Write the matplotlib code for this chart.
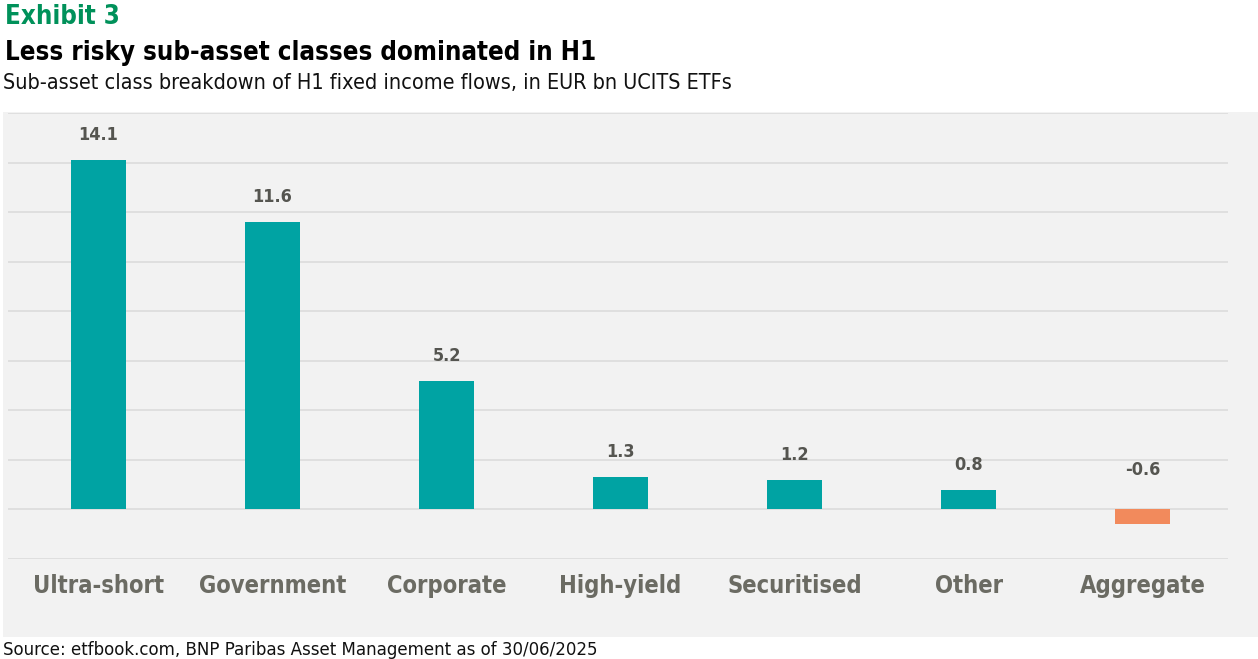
import matplotlib.pyplot as plt
from matplotlib.patches import Rectangle
import numpy as np

# Données
categories = ['Ultra-short', 'Government', 'Corporate', 'High-yield', 'Securitised', 'Other', 'Aggregate']
flows = [14.1, 11.6, 5.2, 1.3, 1.2, 0.8, -0.6]
yticks = [-2, 0, 2, 4, 6, 8, 10, 12, 14, 16]

TEAL = '#00a3a3'
ORANGE = '#f28a5c'
GREEN = '#00915a'
LABEL_GREY = '#555550'
CAT_GREY = '#6b6b63'

W, H = 1258, 659
fig = plt.figure(figsize=(W / 100, H / 100), dpi=100)
fig.patch.set_facecolor('white')

# Fond gris du panneau
fig.patches.append(Rectangle((3 / W, 1 - 637 / H), (W - 3) / W, (637 - 112) / H,
                             transform=fig.transFigure, facecolor='#f2f2f2',
                             edgecolor='none', zorder=0))

ax = fig.add_axes([8 / W, 1 - 559 / H, 1220 / W, (559 - 113) / H])
ax.set_zorder(2)
ax.patch.set_alpha(0)

x = np.arange(len(categories))
colors = [TEAL if v >= 0 else ORANGE for v in flows]
ax.bar(x, flows, width=0.316, color=colors, zorder=3)

for i, v in enumerate(flows):
    off = 11.5 if v >= 0 else 22
    ax.annotate(f'{v:.1f}', xy=(i, max(v, 0)), xytext=(0, off), textcoords='offset points',
                ha='center', va='bottom', fontsize=13, color=LABEL_GREY,
                fontweight='semibold', fontstretch='condensed')

ax.set_xlim(-0.52, 6.49)
ax.set_ylim(-2, 16)
ax.set_yticks(yticks)
ax.set_yticklabels([])
ax.yaxis.grid(True, color='#dcdcdc', linewidth=1.2, zorder=0)
ax.set_axisbelow(True)
ax.tick_params(axis='y', length=0)
ax.tick_params(axis='x', length=0, pad=11)
ax.set_xticks(x)
ax.set_xticklabels(categories, fontsize=17, color=CAT_GREY, fontweight='semibold',
                   fontstretch='condensed')
for s in ax.spines.values():
    s.set_visible(False)

# Titres
fig.text(5 / W, 1 - 24 / H, 'Exhibit 3', fontsize=18.5, fontweight='bold', color=GREEN,
         fontstretch='condensed', va='baseline')
fig.text(5 / W, 1 - 60 / H, 'Less risky sub-asset classes dominated in H1', fontsize=18.5,
         fontweight='bold', color='black', fontstretch='condensed', va='baseline')
fig.text(3 / W, 1 - 89 / H, 'Sub-asset class breakdown of H1 fixed income flows, in EUR bn UCITS ETFs',
         fontsize=15.5, color='#111111', fontstretch='condensed', va='baseline')
fig.text(3 / W, 1 - 655 / H, 'Source: etfbook.com, BNP Paribas Asset Management as of 30/06/2025',
         fontsize=13.3, color='#111111', fontstretch='condensed', va='baseline')

fig.savefig('out.png', dpi=100)
